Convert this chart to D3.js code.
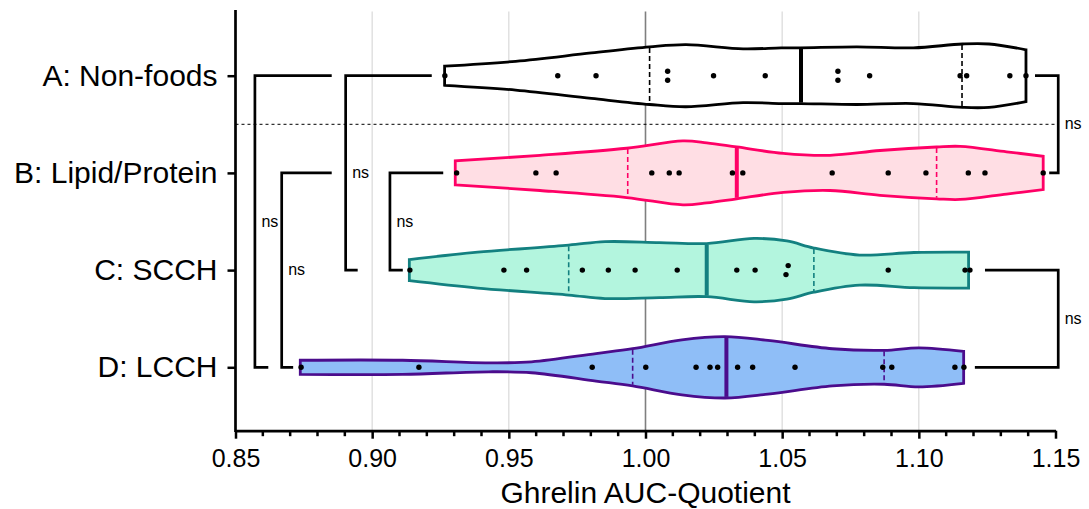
<!DOCTYPE html>
<html>
<head>
<meta charset="utf-8">
<script src="https://cdn.jsdelivr.net/npm/d3@7"></script>
<style>
  body { margin: 0; background: #fff; }
  svg text { font-family: Arial, "Liberation Sans", sans-serif; fill: #000; }
</style>
</head>
<body>
<div id="chart"></div>
<script>
// groups, top to bottom
const groups = ["A: Non-foods", "B: Lipid/Protein", "C: SCCH", "D: LCCH"];

// individual points (Ghrelin AUC-quotient)
const pointsA = [0.9266, 0.9679, 0.9819, 1.0081, 1.0081, 1.0249, 1.0438, 1.0704, 1.0704, 1.0820, 1.1151, 1.1175, 1.1333, 1.1392];
const pointsB = [0.9309, 0.9599, 0.9673, 1.0023, 1.0087, 1.0123, 1.0318, 1.0356, 1.0683, 1.0888, 1.1026, 1.1181, 1.1242, 1.1455];
const pointsC = [0.9138, 0.9482, 0.9565, 0.9769, 0.9864, 0.9962, 1.0116, 1.0334, 1.0401, 1.0514, 1.0522, 1.0888, 1.1169, 1.1187];
const pointsD = [0.8740, 0.9171, 0.9805, 1.0001, 1.0185, 1.0236, 1.0264, 1.0337, 1.0392, 1.0547, 1.0868, 1.0901, 1.1132, 1.1165];

// [q1, median, q3]
const quartA = [1.0015, 1.0569, 1.1158];
const quartB = [0.9935, 1.0334, 1.1065];
const quartC = [0.9719, 1.0224, 1.0616];
const quartD = [0.9953, 1.0296, 1.0873];

// violin outline: [value, relative density]
const densA = [[0.9265,0.30],[0.9525,0.45],[0.9802,0.71],[1.0015,0.90],[1.0148,0.97],[1.0357,0.84],[1.0496,0.87],[1.0566,0.87],[1.0773,0.90],[1.0980,0.87],[1.1160,0.99],[1.1257,0.99],[1.1392,0.81]];
const densB = [[0.9304,0.375],[0.9614,0.55],[0.9931,0.77],[1.0137,1.0],[1.0224,0.94],[1.0334,0.81],[1.0504,0.61],[1.0675,0.55],[1.0858,0.70],[1.1065,0.81],[1.1151,0.83],[1.1321,0.66],[1.1455,0.52]];
const densC = [[0.9136,0.33],[0.9386,0.56],[0.9719,0.78],[0.9852,0.89],[1.0051,0.86],[1.0224,0.83],[1.0397,0.99],[1.0517,0.91],[1.0616,0.69],[1.0783,0.47],[1.0982,0.55],[1.1182,0.56]];
const densD = [[0.8737,0.22],[0.9111,0.22],[0.9426,0.14],[0.9583,0.17],[0.9819,0.43],[0.9953,0.58],[1.0133,0.86],[1.0291,0.96],[1.0448,0.84],[1.0684,0.58],[1.0873,0.53],[1.1000,0.61],[1.1164,0.50]];

const strokeColors = ["#000000", "#ff0066", "#138080", "#4b0c8c"];
const fillColors = ["#ffffff", "#ffdee4", "#b3f5de", "#8fbef7"];

// axis
const xTicks = [0.85, 0.90, 0.95, 1.00, 1.05, 1.10, 1.15];
const gridValues = [0.90, 0.95, 1.00, 1.05, 1.10];
const xTitle = "Ghrelin AUC-Quotient";

// significance brackets (vertical at xv, arms reach to armA / armB)
const brackets = [
  {a: 0, b: 3, xv: 0.8571, armA: 0.8852, armB: 0.8620, label: "ns"},
  {a: 1, b: 3, xv: 0.8669, armA: 0.8852, armB: 0.8711, label: "ns"},
  {a: 0, b: 2, xv: 0.8903, armA: 0.9218, armB: 0.8947, label: "ns"},
  {a: 1, b: 2, xv: 0.9065, armA: 0.9260, armB: 0.9112, label: "ns"},
  {a: 0, b: 1, xv: 1.1510, armA: 1.1425, armB: 1.1477, label: "ns"},
  {a: 2, b: 3, xv: 1.1510, armA: 1.1242, armB: 1.1205, label: "ns"}
];

const series = [
  {points: pointsA, quart: quartA, dens: densA},
  {points: pointsB, quart: quartB, dens: densB},
  {points: pointsC, quart: quartC, dens: densC},
  {points: pointsD, quart: quartD, dens: densD}
];

const width = 1089, height = 509;
const svg = d3.select("#chart").append("svg")
  .attr("width", width).attr("height", height);

const x = d3.scaleLinear().domain([0.85, 1.15]).range([235.5, 1055.5]);
const y = d3.scalePoint().domain(groups).range([75.7, 367.3]);
const w = d3.scaleLinear().domain([0, 1]).range([0, 32]);
const axisY = 430.7, topY = 10;

// gridlines
svg.append("g").selectAll("line")
  .data(gridValues)
  .enter().append("line")
  .attr("x1", d => x(d)).attr("x2", d => x(d))
  .attr("y1", 11.5).attr("y2", axisY)
  .attr("stroke", d => Math.abs(d - 1) < 1e-6 ? "#7f7f7f" : "#d9d9d9")
  .attr("stroke-width", d => Math.abs(d - 1) < 1e-6 ? 1.6 : 1.2);

// dashed separator between A and B
svg.append("line")
  .attr("x1", x(0.85)).attr("x2", x(1.15))
  .attr("y1", (y(groups[0]) + y(groups[1])) / 2)
  .attr("y2", (y(groups[0]) + y(groups[1])) / 2)
  .attr("stroke", "#000").attr("stroke-width", 1)
  .attr("stroke-dasharray", "3,3");

// brackets
const br = svg.append("g").attr("class", "brackets");
brackets.forEach(function (b) {
  let ya = y(groups[b.a]), yb = y(groups[b.b]);
  let p = d3.path();
  p.moveTo(x(b.armA), ya);
  p.lineTo(x(b.xv), ya);
  p.lineTo(x(b.xv), yb);
  p.lineTo(x(b.armB), yb);
  br.append("path").attr("d", p.toString())
    .attr("fill", "none").attr("stroke", "#000").attr("stroke-width", 2.7)
    .attr("stroke-linejoin", "miter");
  br.append("text")
    .attr("x", x(b.xv) + 6.5)
    .attr("y", (ya + yb) / 2)
    .attr("dy", "0.32em")
    .style("font-size", "16px")
    .text(b.label);
});

// interpolated half width at a value
function halfWidth(dens, v) {
  for (let i = 0; i < dens.length - 1; i++) {
    if (v >= dens[i][0] && v <= dens[i + 1][0]) {
      let t = (v - dens[i][0]) / (dens[i + 1][0] - dens[i][0]);
      return w(dens[i][1] + t * (dens[i + 1][1] - dens[i][1]));
    }
  }
  return w(dens[dens.length - 1][1]);
}

// violins
series.forEach(function (s, i) {
  let cy = y(groups[i]);
  let g = svg.append("g").attr("class", "violin");
  let area = d3.area()
    .x(d => x(d[0]))
    .y0(d => cy - w(d[1]))
    .y1(d => cy + w(d[1]))
    .curve(d3.curveCatmullRom.alpha(0.5));
  g.append("path")
    .attr("d", area(s.dens) + "Z")
    .attr("fill", fillColors[i])
    .attr("stroke", strokeColors[i])
    .attr("stroke-width", 2.8)
    .attr("stroke-linejoin", "miter");

  s.quart.forEach(function (q, k) {
    let hw = halfWidth(s.dens, q) - 1;
    g.append("line")
      .attr("x1", x(q)).attr("x2", x(q))
      .attr("y1", cy - hw).attr("y2", cy + hw)
      .attr("stroke", strokeColors[i])
      .attr("stroke-width", k === 1 ? 4 : 1.6)
      .attr("stroke-dasharray", k === 1 ? null : "5,3");
  });

  // points, with a small vertical dodge for near-identical values
  let sorted = s.points.slice().sort((a, b) => a - b);
  let offs = sorted.map(() => 0);
  for (let j = 1; j < sorted.length; j++) {
    if (x(sorted[j]) - x(sorted[j - 1]) < 3 && offs[j - 1] === 0) {
      offs[j - 1] = 4.5;
      offs[j] = -4.5;
    }
  }
  g.selectAll("circle")
    .data(sorted)
    .enter().append("circle")
    .attr("cx", d => x(d))
    .attr("cy", (d, j) => cy + offs[j])
    .attr("r", 2.7)
    .attr("fill", "#000");
});

// x axis
let xAxis = svg.append("g")
  .attr("transform", "translate(0," + axisY + ")")
  .call(d3.axisBottom(x).tickValues(xTicks).tickFormat(d3.format(".2f"))
    .tickSize(8).tickSizeOuter(0).tickPadding(11));
xAxis.select(".domain").attr("stroke-width", 2.7);
xAxis.selectAll(".tick line").attr("stroke-width", 2.5);
xAxis.selectAll(".tick text").style("font-size", "25px")
  .style("font-family", "Arial, 'Liberation Sans', sans-serif");

let minorTicks = d3.range(85, 116).filter(d => d % 5 !== 0).map(d => d / 100);
svg.append("g").selectAll("line")
  .data(minorTicks)
  .enter().append("line")
  .attr("x1", d => x(d)).attr("x2", d => x(d))
  .attr("y1", axisY).attr("y2", axisY + 5.5)
  .attr("stroke", "#000").attr("stroke-width", 2.5);

// y axis
let yAxis = svg.append("g")
  .attr("transform", "translate(" + x(0.85) + ",0)")
  .call(d3.axisLeft(y).tickSize(8).tickSizeOuter(0).tickPadding(10));
yAxis.select(".domain").attr("d", "M0," + topY + "V" + (axisY + 1.3))
  .attr("stroke-width", 2.7);
yAxis.selectAll(".tick line").attr("stroke-width", 2.5);
yAxis.selectAll(".tick text").style("font-size", "30px")
  .style("font-family", "Arial, 'Liberation Sans', sans-serif");

// axis title
svg.append("text")
  .attr("x", (x(0.85) + x(1.15)) / 2)
  .attr("y", 503)
  .attr("text-anchor", "middle")
  .style("font-size", "30px")
  .text(xTitle);
</script>
</body>
</html>
